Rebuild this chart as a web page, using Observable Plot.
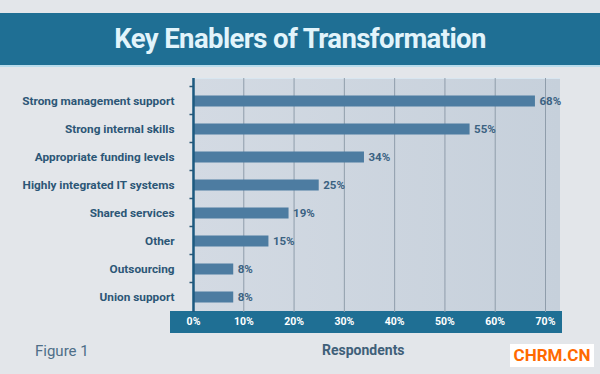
<!DOCTYPE html>
<html>
<head>
<meta charset="utf-8">
<script src="https://cdn.jsdelivr.net/npm/d3@7"></script>
<script src="https://cdn.jsdelivr.net/npm/@observablehq/plot@0.6"></script>
<style>
  body { margin: 0; background: #e3e6ea; }
  #wrap { position: relative; width: 600px; height: 374px; overflow: hidden; background: #e3e6ea; font-family: Roboto, sans-serif; }
  .abs { position: absolute; }
  #titleband { left: 0; top: 13px; width: 600px; height: 52px; background: #1f6f94; border-bottom: 2px solid #b9dcec; }
  #title { left: 0; top: 13px; width: 600px; height: 52px; line-height: 52px; text-align: center; color: #e2f4fb; font-weight: bold; font-size: 27.5px; letter-spacing: -0.6px; }
  #panel { left: 192px; top: 78px; width: 368px; height: 234px; background: linear-gradient(90deg, #d3dae3, #c6d0db); border-top: 1px solid #d8e6f0; }
  #axisband { left: 170px; top: 311px; width: 392px; height: 22px; background: #1f6f94; }
  #chart { left: 0; top: 0; }
  #fig { left: 35px; top: 342px; color: #4e6e88; font-size: 15px; }
  #resp { left: 322px; top: 342px; color: #3f6079; font-size: 14px; font-weight: bold; }
  #wm { left: 510px; top: 344px; width: 84px; height: 23px; background: #fff; color: #ff6a00; font-weight: bold; font-size: 17px; line-height: 23px; text-align: center; }
</style>
</head>
<body>
<div id="wrap">
  <div id="titleband" class="abs"></div>
  <div id="title" class="abs">Key Enablers of Transformation</div>
  <div id="panel" class="abs"></div>
  <div id="axisband" class="abs"></div>
  <div id="chart" class="abs"></div>
  <div id="fig" class="abs">Figure 1</div>
  <div id="resp" class="abs">Respondents</div>
  <div id="wm" class="abs">CHRM.CN</div>
</div>
<script>
const categories = [
  "Strong management support",
  "Strong internal skills",
  "Appropriate funding levels",
  "Highly integrated IT systems",
  "Shared services",
  "Other",
  "Outsourcing",
  "Union support"
];
const values = [68, 55, 34, 25, 19, 15, 8, 8];
const xTicks = [0, 10, 20, 30, 40, 50, 60, 70];

const data = categories.map((c, i) => ({category: c, value: values[i]}));

const chart = Plot.plot({
  width: 600,
  height: 374,
  marginLeft: 193,
  marginRight: 55,
  marginTop: 78,
  marginBottom: 62,
  style: {background: "transparent", fontFamily: "Roboto, sans-serif"},
  x: {domain: [0, 70], ticks: xTicks, tickFormat: d => d + "%"},
  y: {domain: categories, range: [86, 312], padding: 0, label: null},
  marks: [
    Plot.ruleX(xTicks.slice(1), {stroke: "#8f9dab", strokeWidth: 1}),
    Plot.barX(data, {y: "category", x: "value", fill: "#4d7ca1", insetTop: 8.5, insetBottom: 8.5}),
    Plot.text(data, {y: "category", x: "value", text: d => d.value + "%", textAnchor: "start", dx: 4, fill: "#3b6282", fontWeight: "bold", fontSize: 11.5}),
    Plot.ruleY(categories, {y: d => d, x1: -0.7, x2: 0, dy: -15, stroke: "#2b5877", strokeWidth: 1.5}),
    Plot.ruleX([0], {stroke: "#1d5a80", strokeWidth: 2.5}),
    Plot.axisX({ticks: xTicks, tickFormat: d => d + "%", tickSize: 0, tickPadding: 5, color: "white", fontWeight: "bold", fontSize: 10.5, label: null}),
    Plot.axisY({tickSize: 0, tickPadding: 19, color: "#2c5676", fontWeight: "bold", fontSize: 11.8, label: null})
  ]
});
document.getElementById("chart").appendChild(chart);
</script>
</body>
</html>
